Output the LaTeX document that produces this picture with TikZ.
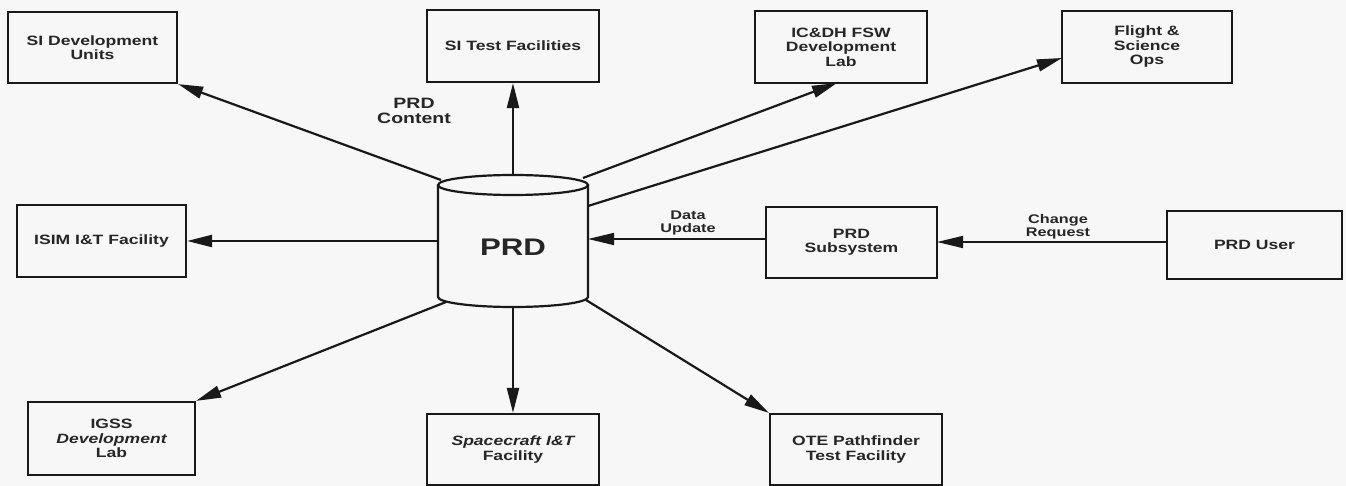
\documentclass[tikz,border=0pt]{standalone}
\usepackage{fontspec}
\setmainfont{Liberation Sans}[FakeStretch=1.3]
\usetikzlibrary{arrows.meta}
\begin{document}
\begin{tikzpicture}[x=1pt,y=-1pt,
  box/.style={draw=black!90, line width=2.2pt, align=center, inner sep=0pt,
    font=\fontsize{13.5}{14.5}\selectfont\bfseries, text=black!85},
  conn/.style={line width=2.2pt, draw=black!90, -{Triangle[length=25pt,width=12pt]}},
  thinconn/.style={line width=1.6pt, draw=black!90, -{Triangle[length=26pt,width=12pt]}},
  lbl/.style={align=center, font=\fontsize{12.5}{12.5}\selectfont\bfseries, text=black!85},
  biglbl/.style={align=center, font=\fontsize{15}{15.5}\selectfont\bfseries, text=black!85}]
\fill[black!3] (0,0) rectangle (1346,486);
\useasboundingbox (0,0) rectangle (1346,486);

% boxes
\node[box, minimum width=169pt, minimum height=71pt] (sidev) at (92.5,47.5) {SI Development\\Units};
\node[box, minimum width=172pt, minimum height=72pt] (sitest) at (513,46) {SI Test Facilities};
\node[box, minimum width=172pt, minimum height=72pt] (icdh) at (841,47) {IC\&DH FSW\\Development\\Lab};
\node[box, minimum width=170pt, minimum height=72pt] (flight) at (1147,47) {Flight \&\\Science\\Ops};
\node[box, minimum width=169pt, minimum height=72pt] (isim) at (101.5,241) {ISIM I\&T Facility};
\node[box, minimum width=167pt, minimum height=73pt] (igss) at (111.5,438.5) {IGSS\\\itshape Development\\Lab};
\node[box, minimum width=172pt, minimum height=71pt] (space) at (513,449.5) {\itshape Spacecraft I\&T\\Facility};
\node[box, minimum width=172pt, minimum height=71pt] (ote) at (856,449.5) {OTE Pathfinder\\Test Facility};
\node[box, minimum width=171pt, minimum height=71pt] (prdsub) at (851.5,242.5) {PRD\\Subsystem};
\node[box, minimum width=175pt, minimum height=68pt] (user) at (1254.5,245) {PRD User};

% cylinder (PRD store)
\node[minimum width=150pt, minimum height=132pt, inner sep=0pt] (prd) at (513,241) {};
\draw[line width=2.2pt, draw=black!90]
  (438,185) -- (438,297) arc[start angle=180, end angle=360, x radius=75pt, y radius=10pt]
  -- (588,185);
\draw[line width=2.2pt, draw=black!90] (513,185) ellipse[x radius=75pt, y radius=10pt];
\node[font=\fontsize{24}{26}\selectfont\bfseries, text=black!85] (prdtext) at (513,247) {PRD};

% connector end points on the cylinder and boxes
\coordinate (p1) at (441,180);
\coordinate (p2) at (583,178);
\coordinate (p3) at (588,206);
\coordinate (p4) at (446,302);
\coordinate (p5) at (586,300);
\coordinate (icdhend) at (837,83);
\coordinate (flightend) at (1062,58);
\coordinate (isimstart) at (438,241);
\coordinate (duend) at (588,239);
\coordinate (dustart) at (766,239);
\coordinate (crstart) at (1167,242);
\coordinate (crend) at (937,242);

\draw[conn] (p1) -- (sidev.south east);
\draw[conn] (prd.north) -- (sitest.south);
\draw[conn] (p2) -- (icdhend);
\draw[conn] (p3) -- (flightend);
\draw[conn] (isimstart) -- (isim.east |- isimstart);
\draw[conn] (p4) -- (igss.north east);
\draw[conn] (prd.south) -- (space.north);
\draw[conn] (p5) -- (ote.north west);
\draw[thinconn] (dustart) -- (duend);
\draw[thinconn] (crstart) -- (crend);

% labels
\node[biglbl] (lcontent) at (414,111) {PRD\\Content};
\node[lbl] (lupdate) at (688,223) {Data\\Update};
\node[lbl] (lchange) at (1058,227) {Change\\Request};
\end{tikzpicture}
\end{document}
